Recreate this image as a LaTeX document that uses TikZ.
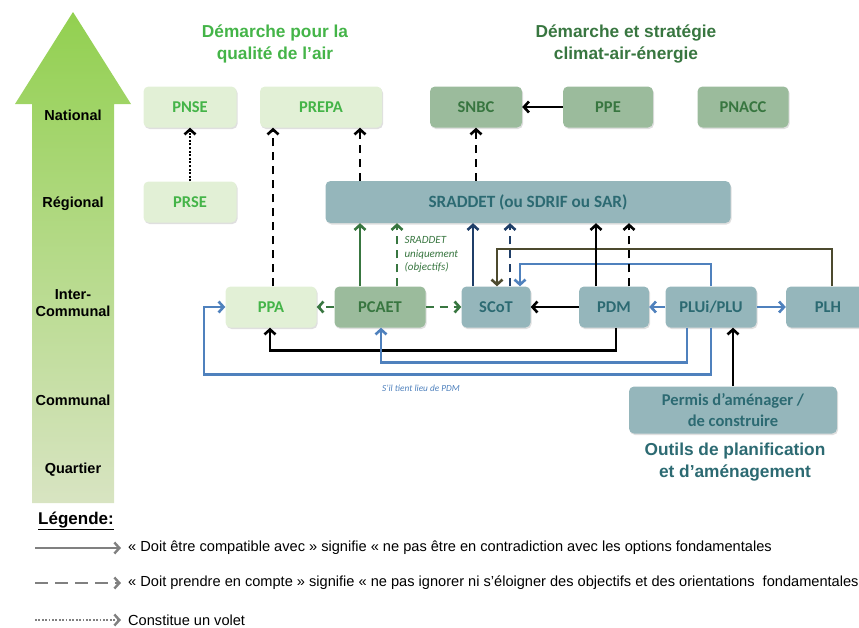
\documentclass[tikz,border=0pt]{standalone}
\usepackage{fontspec}
\setmainfont{Liberation Sans}
\newfontfamily\calibri{Carlito}
\usetikzlibrary{shapes,positioning,arrows.meta,shadows}
\definecolor{airgreen}{RGB}{68,180,72}
\definecolor{climgreen}{RGB}{56,118,64}
\definecolor{outilteal}{RGB}{44,106,114}
\definecolor{airfill}{RGB}{226,240,214}
\definecolor{climfill}{RGB}{155,187,156}
\definecolor{outilfill}{RGB}{149,182,187}
\definecolor{scotnavy}{RGB}{31,62,104}
\definecolor{plublue}{RGB}{79,129,189}
\definecolor{plholive}{RGB}{76,74,46}
\definecolor{legendgray}{RGB}{128,128,128}
\definecolor{arrowtop}{RGB}{146,208,80}
\definecolor{arrowbottom}{RGB}{216,228,194}
\tikzset {
plan/.style={shape=rectangle,rounded corners=5pt,minimum height=41pt,inner sep=0pt,align=center,
  font=\calibri\bfseries\fontsize{16.5}{21}\selectfont,
  drop shadow={shadow xshift=1pt,shadow yshift=-1.5pt,opacity=0.25}},
air/.style={plan,fill=airfill,text=airgreen},
climat/.style={plan,fill=climfill,text=climgreen},
outil/.style={plan,fill=outilfill,text=outilteal},
niveau/.style={font=\bfseries\fontsize{14.5}{17}\selectfont,align=center},
titre/.style={font=\bfseries\fontsize{17.3}{21.5}\selectfont,align=center},
lien/.style={line width=2.6pt,->},
tirets/.style={dash pattern=on 8pt off 6pt},
points/.style={dash pattern=on 2pt off 1.6pt},
note/.style={font=\calibri\itshape\fontsize{11}{13.5}\selectfont,align=left},
legende/.style={font=\fontsize{14.6}{17}\selectfont,anchor=west,inner sep=4pt}
}

\begin{document}
\begin{tikzpicture}
[x=1pt,y=-1pt,>={Straight Barb[length=5pt,width=11pt]}]
\useasboundingbox (0,0) rectangle (859,627);
\clip (0,0) rectangle (859,627);
% echelle
\shade[top color=arrowtop,bottom color=arrowbottom] (32,503) -- (32,104) -- (15,104) -- (73,12) -- (131,104) -- (114,104) -- (114,503) -- cycle;
\node[niveau] (national) at (73,115) {National};
\node[niveau] (regional) at (73,204) {Régional};
\node[niveau] (intercommunal) at (73,303) {Inter-\\Communal};
\node[niveau] (communal) at (73,400) {Communal};
\node[niveau] (quartier) at (73,470) {Quartier};

\node[titre,text=airgreen] (titre air) at (275,44) {Démarche pour la\\qualité de l'air};
\node[titre,text=climgreen] (titre climat) at (626,44) {Démarche  et stratégie\\climat-air-énergie};

\node[air,minimum width=93pt] (pnse) at (190,107) {PNSE};
\node[air,minimum width=122pt] (prepa) at (321,107) {PREPA};
\node[climat,minimum width=92pt] (snbc) at (476,107) {SNBC};
\node[climat,minimum width=90pt] (ppe) at (608,107) {PPE};
\node[climat,minimum width=91pt] (pnacc) at (743,107) {PNACC};
\node[air,minimum width=93pt] (prse) at (190,202) {PRSE};
\node[outil,minimum width=405pt,minimum height=42pt,font=\calibri\bfseries\fontsize{17.2}{21}\selectfont] (sraddet) at (528,202) {SRADDET (ou SDRIF ou SAR)};
\node[air,minimum width=91pt] (ppa) at (271,307) {PPA};
\node[climat,minimum width=91pt] (pcaet) at (380,307) {PCAET};
\node[outil,minimum width=69pt] (scot) at (496,307) {SCoT};
\node[outil,minimum width=70pt] (pdm) at (614,307) {PDM};
\node[outil,minimum width=91pt] (plu) at (711,307) {PLUi/PLU};
\node[outil,minimum width=84pt] (plh) at (828,307) {PLH};
\node[outil,minimum width=208pt,minimum height=47pt] (permis) at (733,410) {Permis d’aménager /\\de construire};
\node[titre,text=outilteal] (titre outils) at (735,462) {Outils de planification\\et d’aménagement};

\draw[lien,points] (prse) -- (pnse);
\draw[lien,tirets] ([xshift=2pt]ppa.north) -- ([xshift=-48pt]prepa.south);
\draw[lien,tirets] ([xshift=-168pt]sraddet.north) -- ([xshift=39pt]prepa.south);
\draw[lien,tirets] ([xshift=-52pt]sraddet.north) -- (snbc.south);
\draw[lien] (ppe) -- (snbc);

\draw[lien,climgreen] ([xshift=-20pt]pcaet.north) -- ([xshift=-168pt]sraddet.south);
\draw[lien,climgreen,tirets] ([xshift=17pt]pcaet.north) -- ([xshift=-131pt]sraddet.south);
\node[note,text=climgreen,anchor=north west] (sraddet seul) at (401,233) {SRADDET\\uniquement\\(objectifs)};
\draw[lien,climgreen,tirets] (pcaet) -- (ppa);
\draw[lien,climgreen,tirets] (pcaet) -- (scot);

\draw[lien,scotnavy] ([xshift=-23pt]scot.north) -- ([xshift=-55pt]sraddet.south);
\draw[lien,scotnavy,tirets] ([xshift=14pt]scot.north) -- ([xshift=-18pt]sraddet.south);
\draw[lien,plholive] ([xshift=4pt]plh.north) -- ++(0,-37.5) -| ([xshift=1pt]scot.north);
\draw[lien,plublue] (plu.north) -- ++(0,-22.5) -| ([xshift=24pt]scot.north);

\draw[lien] ([xshift=-18pt]pdm.north) -- ([xshift=68pt]sraddet.south);
\draw[lien,tirets] ([xshift=15pt]pdm.north) -- ([xshift=101pt]sraddet.south);
\draw[lien] (pdm) -- (scot);
\draw[lien,plublue] (plu) -- (pdm);
\draw[lien,plublue] (plu) -- (plh);

\draw[lien] ([xshift=2pt]pdm.south) -- ++(0,22.5) -| ([xshift=-1pt]ppa.south);
\draw[lien,plublue] ([xshift=-24pt]plu.south) -- ++(0,34.5) -| ([xshift=1pt]pcaet.south);
\draw[lien,plublue] (plu.south) -- ++(0,46.5) -| ([xshift=-21.5pt]ppa.west) -- (ppa.west);
\node[note,text=plublue,font=\calibri\itshape\fontsize{9.3}{11}\selectfont] (tient lieu) at (421,388) {S’il tient lieu de PDM};
\draw[lien] (permis.north) -- ([xshift=22pt]plu.south);

% legende
\node[font=\bfseries\fontsize{17}{19}\selectfont] (legende) at (76,521) {\underline{Légende:}};
\node[legende] (compatible) at (124,548) {« Doit être compatible avec » signifie « ne pas être en contradiction avec les options fondamentales};
\node[legende] (compte) at (124,583) {« Doit prendre en compte » signifie « ne pas ignorer ni s’éloigner des objectifs et des orientations~ fondamentales};
\node[legende] (volet) at (124,620) {Constitue un volet};
\coordinate (compatible debut) at (35,548);
\coordinate (compte debut) at (35,583);
\coordinate (volet debut) at (35,620);
\draw[legendgray,line width=2.4pt,->,shorten >=3pt] (compatible debut) -- (compatible.west);
\draw[legendgray,line width=2.4pt,->,shorten >=3pt,dash pattern=on 13pt off 7pt] (compte debut) -- (compte.west);
\draw[legendgray,line width=2.4pt,->,shorten >=3pt,dash pattern=on 1.8pt off 1.6pt] (volet debut) -- (volet.west);
\end{tikzpicture}
\end{document}
